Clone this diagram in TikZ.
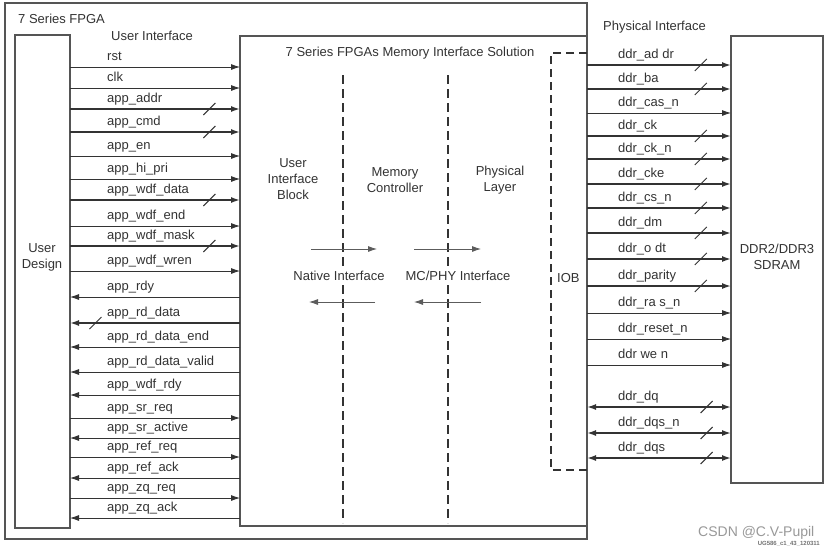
\documentclass[tikz,border=0pt]{standalone}
\usepackage{fontspec}
\setmainfont{Liberation Sans}
\usepackage{xcolor}
\usetikzlibrary{arrows.meta,positioning,decorations.markings}
\definecolor{ink}{HTML}{333333}
\definecolor{frame}{HTML}{555555}

\begin{document}
\begin{tikzpicture}[
    x=1pt, y=-1pt,
    font=\fontsize{13}{16}\selectfont,
    text=ink,
    >={Latex[length=9pt,width=6pt]},
    box/.style={rectangle, draw=frame, line width=1.4pt, outer sep=0pt, inner sep=0pt, anchor=north west},
    sig/.style={inner sep=0pt, text depth=6pt, anchor=south west},
    txt/.style={align=center, inner sep=0pt},
    wire/.style={->, draw=ink, line width=0.8pt},
    bus/.style={wire, line width=1.6pt, postaction={decorate, decoration={markings,
        mark=at position #1 with {\draw[-, draw=ink, line width=1pt] (-6pt,-6pt) -- (6pt,6pt);}}}},
    bus/.default=0.82,
    bidir/.style={bus=#1, <->},
    flow/.style={->, draw=ink!80, line width=0.8pt},
    tier/.style={draw=ink, line width=1.3pt, dash pattern=on 9pt off 5pt},
    iobline/.style={draw=ink, line width=1.3pt, dash pattern=on 8pt off 5pt}
]
\path[fill=white] (0,0) rectangle (826,550);
\useasboundingbox (0,0) rectangle (826,550);

% boxes
\node[box, minimum width=582pt, minimum height=536pt] (fpga) at (5,3) {};
\node[box, minimum width=55pt, minimum height=493pt] (design) at (15,35) {};
\node[box, minimum width=347pt, minimum height=490pt] (sol) at (240,36) {};
\node[box, minimum width=92pt, minimum height=447pt] (ddr) at (731,36) {};

% headings
\node[anchor=west, inner sep=0pt] (fpgatxt) at (18,19) {7 Series FPGA};
\node[anchor=west, inner sep=0pt] (uitxt) at (111,36) {User Interface};
\node[anchor=west, inner sep=0pt] (phytxt) at (603,27) {Physical Interface};
\node[inner sep=0pt] (soltxt) at (410,53) {7 Series FPGAs Memory Interface Solution};
\node[txt] (udtxt) at (42,257) {User\\Design};
\node[txt] (ddrtxt) at (777,257) {DDR2/DDR3\\SDRAM};

% layers
\draw[tier] (343,75) -- (343,523);
\draw[tier] (448,75) -- (448,523);
\draw[iobline] (587,53) -| (551,470) -- (587,470);

\node[txt] (uib) at (293,179) {User\\Interface\\Block};
\node[txt] (mc) at (395,180) {Memory\\Controller};
\node[txt] (phy) at (500,180) {Physical\\Layer};
\node[fill=white, inner sep=2pt] (native) at (339,276) {Native Interface};
\node[fill=white, inner sep=2pt] (mcphy) at (458,276) {MC/PHY Interface};
\node[anchor=west, inner sep=0pt] (iob) at (557,278) {IOB};

\coordinate (na) at (311,249);
\coordinate (nb) at (377,249);
\coordinate (nc) at (375,302);
\coordinate (nd) at (309,302);
\coordinate (ma) at (414,249);
\coordinate (mb) at (481,249);
\coordinate (mc1) at (481,302);
\coordinate (md) at (414,302);
\draw[flow] (na) -- (nb);
\draw[flow] (nc) -- (nd);
\draw[flow] (ma) -- (mb);
\draw[flow] (mc1) -- (md);

% user interface signals
\node[sig] (rst) at (107,67) {rst};
\node[sig] (clk) at (107,88) {clk};
\node[sig] (addr) at (107,109) {app\_addr};
\node[sig] (cmd) at (107,132) {app\_cmd};
\node[sig] (en) at (107,156) {app\_en};
\node[sig] (hipri) at (107,179) {app\_hi\_pri};
\node[sig] (wdata) at (107,200) {app\_wdf\_data};
\node[sig] (wend) at (107,226) {app\_wdf\_end};
\node[sig] (wmask) at (107,246) {app\_wdf\_mask};
\node[sig] (wren) at (107,271) {app\_wdf\_wren};
\node[sig] (rdy) at (107,297) {app\_rdy};
\node[sig] (rdata) at (107,323) {app\_rd\_data};
\node[sig] (rend) at (107,347) {app\_rd\_data\_end};
\node[sig] (rvalid) at (107,372) {app\_rd\_data\_valid};
\node[sig] (wrdy) at (107,395) {app\_wdf\_rdy};
\node[sig] (srreq) at (107,418) {app\_sr\_req};
\node[sig] (sract) at (107,438) {app\_sr\_active};
\node[sig] (refreq) at (107,457) {app\_ref\_req};
\node[sig] (refack) at (107,478) {app\_ref\_ack};
\node[sig] (zqreq) at (107,498) {app\_zq\_req};
\node[sig] (zqack) at (107,518) {app\_zq\_ack};

\draw[wire] (design.east |- rst.south) -- (sol.west |- rst.south);
\draw[wire] (design.east |- clk.south) -- (sol.west |- clk.south);
\draw[bus] (design.east |- addr.south) -- (sol.west |- addr.south);
\draw[bus] (design.east |- cmd.south) -- (sol.west |- cmd.south);
\draw[wire] (design.east |- en.south) -- (sol.west |- en.south);
\draw[wire] (design.east |- hipri.south) -- (sol.west |- hipri.south);
\draw[bus] (design.east |- wdata.south) -- (sol.west |- wdata.south);
\draw[wire] (design.east |- wend.south) -- (sol.west |- wend.south);
\draw[bus] (design.east |- wmask.south) -- (sol.west |- wmask.south);
\draw[wire] (design.east |- wren.south) -- (sol.west |- wren.south);
\draw[wire] (sol.west |- rdy.south) -- (design.east |- rdy.south);
\draw[bus=0.85] (sol.west |- rdata.south) -- (design.east |- rdata.south);
\draw[wire] (sol.west |- rend.south) -- (design.east |- rend.south);
\draw[wire] (sol.west |- rvalid.south) -- (design.east |- rvalid.south);
\draw[wire] (sol.west |- wrdy.south) -- (design.east |- wrdy.south);
\draw[wire] (design.east |- srreq.south) -- (sol.west |- srreq.south);
\draw[wire] (sol.west |- sract.south) -- (design.east |- sract.south);
\draw[wire] (design.east |- refreq.south) -- (sol.west |- refreq.south);
\draw[wire] (sol.west |- refack.south) -- (design.east |- refack.south);
\draw[wire] (design.east |- zqreq.south) -- (sol.west |- zqreq.south);
\draw[wire] (sol.west |- zqack.south) -- (design.east |- zqack.south);

% physical interface signals
\node[sig] (daddr) at (618,65) {ddr\_ad dr};
\node[sig] (dba) at (618,89) {ddr\_ba};
\node[sig] (dcas) at (618,113) {ddr\_cas\_n};
\node[sig] (dck) at (618,136) {ddr\_ck};
\node[sig] (dckn) at (618,159) {ddr\_ck\_n};
\node[sig] (dcke) at (618,184) {ddr\_cke};
\node[sig] (dcs) at (618,208) {ddr\_cs\_n};
\node[sig] (ddm) at (618,233) {ddr\_dm};
\node[sig] (dodt) at (618,259) {ddr\_o dt};
\node[sig] (dpar) at (618,286) {ddr\_parity};
\node[sig] (dras) at (618,313) {ddr\_ra s\_n};
\node[sig] (drst) at (618,339) {ddr\_reset\_n};
\node[sig] (dwe) at (618,365) {ddr we n};
\node[sig] (ddq) at (618,407) {ddr\_dq};
\node[sig] (ddqsn) at (618,433) {ddr\_dqs\_n};
\node[sig] (ddqs) at (618,458) {ddr\_dqs};

\draw[bus=0.79] (sol.east |- daddr.south) -- (ddr.west |- daddr.south);
\draw[bus=0.79] (sol.east |- dba.south) -- (ddr.west |- dba.south);
\draw[wire] (sol.east |- dcas.south) -- (ddr.west |- dcas.south);
\draw[bus=0.79] (sol.east |- dck.south) -- (ddr.west |- dck.south);
\draw[bus=0.79] (sol.east |- dckn.south) -- (ddr.west |- dckn.south);
\draw[bus=0.79] (sol.east |- dcke.south) -- (ddr.west |- dcke.south);
\draw[bus=0.79] (sol.east |- dcs.south) -- (ddr.west |- dcs.south);
\draw[bus=0.79] (sol.east |- ddm.south) -- (ddr.west |- ddm.south);
\draw[bus=0.79] (sol.east |- dodt.south) -- (ddr.west |- dodt.south);
\draw[bus=0.79] (sol.east |- dpar.south) -- (ddr.west |- dpar.south);
\draw[wire] (sol.east |- dras.south) -- (ddr.west |- dras.south);
\draw[wire] (sol.east |- drst.south) -- (ddr.west |- drst.south);
\draw[wire] (sol.east |- dwe.south) -- (ddr.west |- dwe.south);
\draw[bidir=0.83] (sol.east |- ddq.south) -- (ddr.west |- ddq.south);
\draw[bidir=0.83] (sol.east |- ddqsn.south) -- (ddr.west |- ddqsn.south);
\draw[bidir=0.83] (sol.east |- ddqs.south) -- (ddr.west |- ddqs.south);

% watermark
\node[anchor=west, inner sep=0pt, text=black!40, font=\fontsize{14}{16}\selectfont] (csdn) at (698,533) {CSDN @C.V-Pupil};
\node[anchor=east, inner sep=0pt, text=black!55, font=\bfseries\fontsize{6}{7}\selectfont] (ug) at (820,544) {UG586\_c1\_43\_120311};
\end{tikzpicture}
\end{document}
